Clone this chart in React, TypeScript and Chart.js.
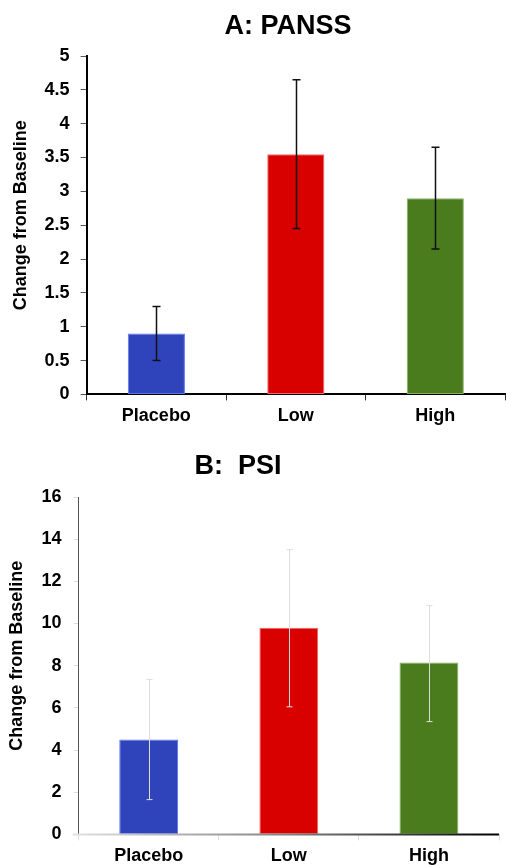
import React, { useEffect, useRef } from "react";
import { Chart, registerables } from "chart.js";

Chart.register(...registerables);

const categories = ["Placebo", "Low", "High"];

const panssMeans = [0.9, 3.55, 2.9];
const panssErrLow = [0.5, 2.45, 2.15];
const panssErrHigh = [1.3, 4.65, 3.65];

const psiMeans = [4.5, 9.8, 8.15];
const psiErrLow = [1.65, 6.05, 5.35];
const psiErrHigh = [7.35, 13.5, 10.85];

const barColors = ["#2f44bb", "#d90000", "#4a7c1e"];
const barBorders = ["#5a74f0", "#f06a6a", "#86b060"];

const FONT = "'Liberation Sans', Arial, Helvetica, sans-serif";

const errorBarPlugin = {
  id: "errorBars",
  afterDatasetsDraw(chart: any, _args: any, opts: any) {
    const { ctx, scales } = chart;
    const meta = chart.getDatasetMeta(0);
    const y = scales.y;
    ctx.save();
    ctx.strokeStyle = opts.color;
    ctx.lineWidth = opts.width;
    meta.data.forEach((bar: any, i: number) => {
      const x = Math.round(bar.x) + 0.5;
      const yl = y.getPixelForValue(opts.lows[i]);
      const yh = y.getPixelForValue(opts.highs[i]);
      ctx.beginPath();
      ctx.moveTo(x, yl);
      ctx.lineTo(x, yh);
      ctx.moveTo(x - opts.cap, yl);
      ctx.lineTo(x + opts.cap, yl);
      ctx.moveTo(x - opts.cap, yh);
      ctx.lineTo(x + opts.cap, yh);
      ctx.stroke();
    });
    ctx.restore();
  },
};

const gradientAxisPlugin = {
  id: "gradientAxis",
  afterDatasetsDraw(chart: any, _args: any, opts: any) {
    if (!opts || !opts.enabled) return;
    const { ctx, chartArea } = chart;
    const x0 = chartArea.left - 6;
    const x1 = chartArea.right;
    const g = ctx.createLinearGradient(x0, 0, x1, 0);
    g.addColorStop(0, "rgba(225,225,225,1)");
    g.addColorStop(0.5, "rgba(130,130,130,1)");
    g.addColorStop(1, "rgba(0,0,0,1)");
    ctx.save();
    ctx.strokeStyle = g;
    ctx.lineWidth = 2;
    ctx.beginPath();
    ctx.moveTo(x0, chartArea.bottom);
    ctx.lineTo(x1, chartArea.bottom);
    ctx.stroke();
    ctx.restore();
  },
};

const tickLabel = (v: any) => String(Number(v));

function makeConfig(kind: "A" | "B"): any {
  const isA = kind === "A";
  const means = isA ? panssMeans : psiMeans;
  return {
    type: "bar",
    data: {
      labels: categories,
      datasets: [
        {
          data: means,
          backgroundColor: barColors,
          borderColor: barBorders,
          borderWidth: 1,
          borderSkipped: false,
          barPercentage: isA ? 0.41 : 0.42,
          categoryPercentage: 1,
        },
      ],
    },
    plugins: [errorBarPlugin, gradientAxisPlugin],
    options: {
      animation: false,
      responsive: true,
      maintainAspectRatio: false,
      layout: {
        padding: isA
          ? { top: 56, left: 8, right: 1, bottom: 8 }
          : { top: 62, left: 4, right: 7, bottom: 0 },
      },
      plugins: {
        legend: { display: false },
        title: { display: false },
        tooltip: { enabled: false },
        errorBars: isA
          ? { lows: panssErrLow, highs: panssErrHigh, color: "#111111", width: 1.5, cap: 4 }
          : { lows: psiErrLow, highs: psiErrHigh, color: "#dddddd", width: 1, cap: 3 },
        gradientAxis: { enabled: !isA },
      },
      scales: {
        x: {
          z: isA ? 1 : 0,
          border: isA
            ? { display: true, color: "#000000", width: 2 }
            : { display: false },
          grid: {
            display: true,
            drawOnChartArea: false,
            drawTicks: true,
            tickLength: 6,
            offset: true,
            color: isA ? "#333333" : "#dddddd",
            lineWidth: 1,
          },
          ticks: {
            color: "#000000",
            padding: 5,
            font: { family: FONT, size: 18, weight: "bold" },
          },
        },
        y: {
          min: 0,
          max: isA ? 5 : 16,
          z: isA ? 1 : 0,
          border: isA
            ? { display: true, color: "#000000", width: 2 }
            : { display: true, color: "#555555", width: 1 },
          grid: {
            display: true,
            drawOnChartArea: false,
            drawTicks: true,
            tickLength: isA ? 6 : 5,
            color: isA ? "#555555" : "#dddddd",
            lineWidth: 1,
          },
          ticks: {
            stepSize: isA ? 0.5 : 2,
            color: "#000000",
            padding: isA ? 11 : 12,
            callback: tickLabel,
            font: { family: FONT, size: 18, weight: "bold" },
          },
          title: {
            display: true,
            text: "    Change from Baseline",
            color: "#000000",
            padding: { top: 2, bottom: 2 },
            font: { family: FONT, size: 18, weight: "bold" },
          },
        },
      },
    },
  };
}

function BarChart({ kind }: { kind: "A" | "B" }) {
  const ref = useRef<HTMLCanvasElement | null>(null);
  useEffect(() => {
    if (!ref.current) return;
    const chart = new Chart(ref.current, makeConfig(kind));
    return () => chart.destroy();
  }, [kind]);
  return <canvas ref={ref} />;
}

const titleStyle = (cx: number, top: number): React.CSSProperties => ({
  position: "absolute",
  left: 0,
  top,
  width: cx * 2,
  textAlign: "center",
  fontFamily: FONT,
  fontWeight: "bold",
  fontSize: 27,
  lineHeight: "30px",
  color: "#000",
  whiteSpace: "pre",
});

export default function App() {
  return (
    <div
      style={{
        position: "absolute",
        left: 0,
        top: 0,
        width: 506,
        height: 865,
        background: "#ffffff",
        overflow: "hidden",
      }}
    >
      <div style={{ position: "absolute", left: 0, top: 0, width: 506, height: 440 }}>
        <BarChart kind="A" />
      </div>
      <div style={{ position: "absolute", left: 0, top: 435, width: 506, height: 437 }}>
        <BarChart kind="B" />
      </div>
      <div style={titleStyle(288, 10)}>A: PANSS</div>
      <div style={titleStyle(238, 450)}>{"B:  PSI"}</div>
    </div>
  );
}
